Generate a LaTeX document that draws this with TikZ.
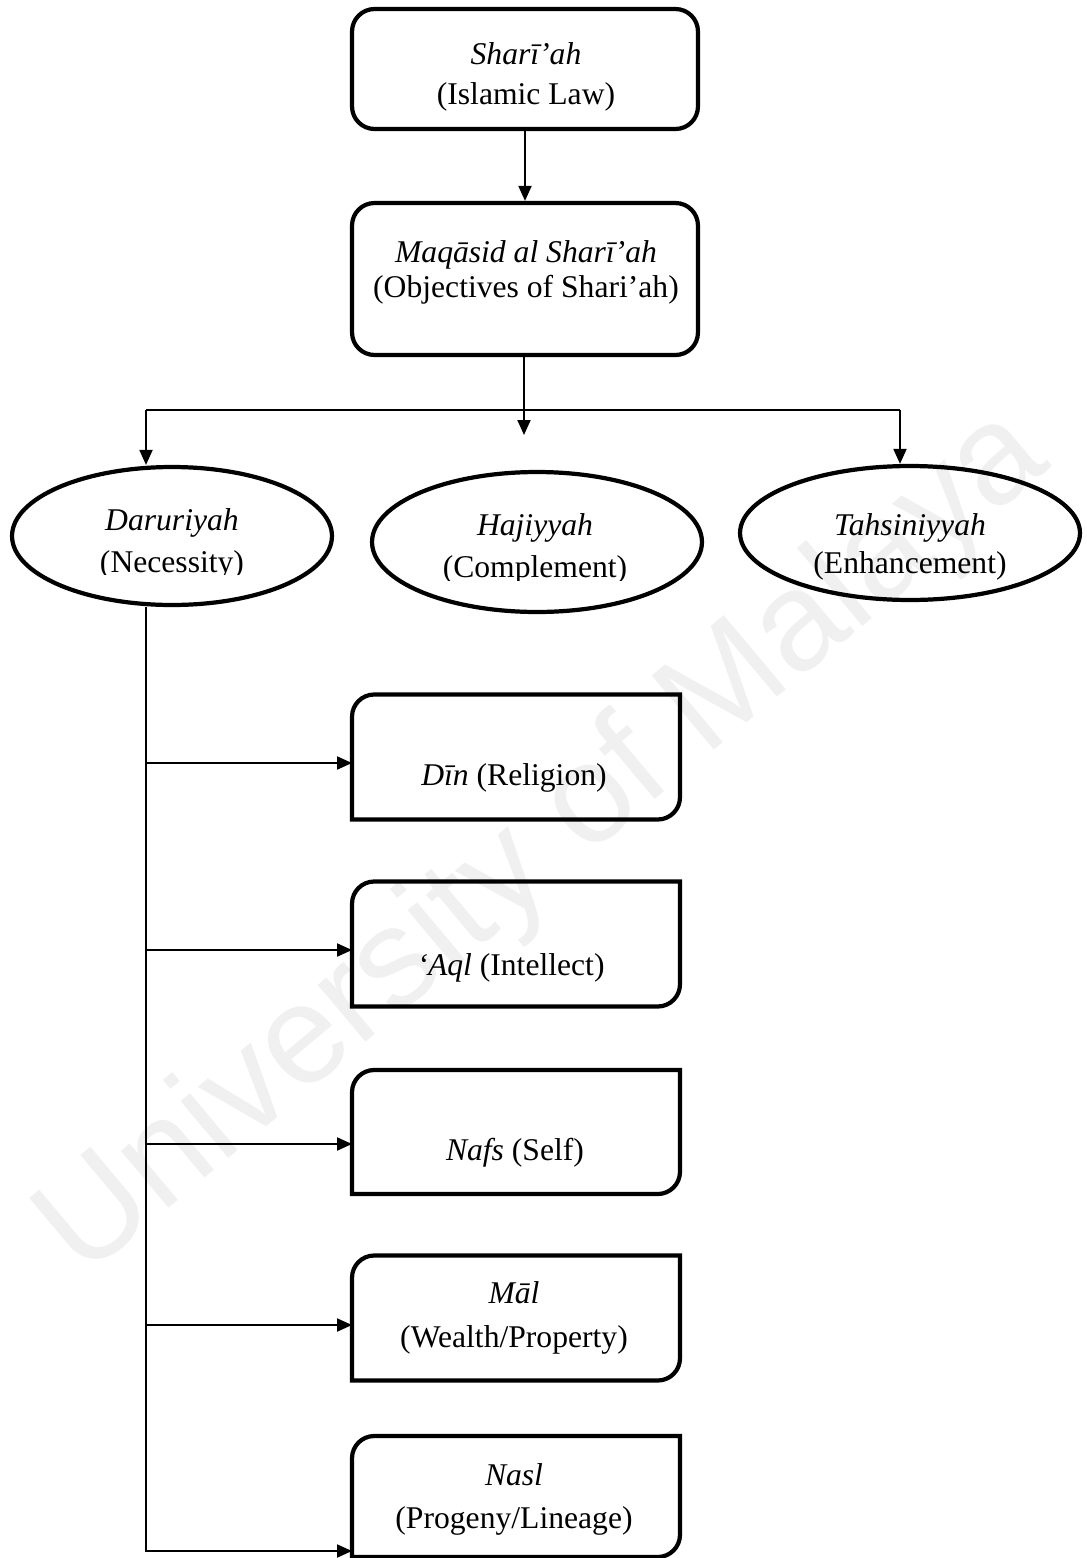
\documentclass[tikz,border=0pt]{standalone}
\usepackage{fontspec}
\setmainfont{Liberation Serif}
\newfontfamily\wmfont{Liberation Sans}
\usetikzlibrary{arrows.meta,shapes.geometric,calc}

\tikzset{
  shape line/.style={line width=2.4pt},
  roundbox/.style={shape line, draw, rounded corners=0.45cm, minimum width=6.92cm, inner sep=0pt},
  oval/.style={shape line, draw, ellipse, inner sep=0pt},
  slot/.style={minimum width=6.56cm, inner sep=0pt, outer sep=0pt},
  link/.style={line width=1.1pt},
  arrow/.style={link, -{Triangle[length=0.3cm,width=0.26cm]}},
  txt/.style={anchor=base, inner sep=0pt, font=\fontsize{18}{22}\selectfont},
  wmark/.style={rotate=40, text=black!6, inner sep=0pt, font=\wmfont\fontsize{80}{80}\selectfont},
}

% box with rounded top-left and bottom-right corners (radius 22 units)
\newcommand\cornerbox[1]{%
  \draw[shape line, line join=miter]
    (#1.south west) -- ($(#1.north west)+(0,22)$)
    .. controls ($(#1.north west)+(0,10)$) and ($(#1.north west)+(10,0)$) .. ($(#1.north west)+(22,0)$)
    -- (#1.north east) -- ($(#1.south east)+(0,-22)$)
    .. controls ($(#1.south east)+(0,-10)$) and ($(#1.south east)+(-10,0)$) .. ($(#1.south east)+(-22,0)$)
    -- cycle;}

\begin{document}
\begin{tikzpicture}[x=0.02cm,y=-0.02cm]
\useasboundingbox (0,0) rectangle (1087,1558);

% watermark
\node[wmark] (wm) at (545,845) {University of Malaya};

% top chain
\node[roundbox, minimum height=2.4cm] (law) at (525,69) {};
\node[txt] (lawa) at (526,65) {\itshape Sharī’ah};
\node[txt] (lawb) at (526,105) {(Islamic Law)};

\node[roundbox, minimum height=3.04cm] (mq) at (525,279) {};
\node[txt] (mqa) at (526,262) {\itshape Maqāsid al Sharī’ah};
\node[txt] (mqb) at (526,297) {(Objectives of Shari’ah)};

\draw[arrow] (law.south) -- (mq.north);

% three levels
\node[oval, minimum width=6.4cm, minimum height=2.76cm] (dar) at (172,536) {};
\node[oval, minimum width=6.6cm, minimum height=2.8cm] (haj) at (537,542) {};
\node[oval, minimum width=6.8cm, minimum height=2.68cm] (tah) at (910,533) {};

\node[txt] (dara) at (172,530) {\itshape Daruriyah};
\begin{scope}
  \clip (60,540) rectangle (290,574);
  \node[txt] (darb) at (172,572) {(Necessity)};
\end{scope}
\node[txt] (haja) at (535,535) {\itshape Hajiyyah};
\begin{scope}
  \clip (420,545) rectangle (660,580);
  \node[txt] (hajb) at (535,577) {(Complement)};
\end{scope}
\node[txt] (taha) at (910,535) {\itshape Tahsiniyyah};
\node[txt] (tahb) at (910,573) {(Enhancement)};

\coordinate (jl) at (146,410);
\coordinate (jr) at (900,410);
\coordinate (jm) at (524,435);
\draw[link] (jl) -- (jr);
\draw[arrow] (mq.south -| jm) -- (jm);
\draw[arrow] (jl) -- (jl |- dar.north);
\draw[arrow] (jr) -- (jr |- tah.north);

% five necessities
\node[slot, minimum height=2.5cm] (din) at (516,757) {};
\node[slot, minimum height=2.5cm] (aql) at (516,944) {};
\node[slot, minimum height=2.48cm] (nafs) at (516,1132) {};
\node[slot, minimum height=2.5cm] (mal) at (516,1318) {};
\node[slot, minimum height=2.42cm] (nasl) at (516,1496.5) {};
\cornerbox{din}
\cornerbox{aql}
\cornerbox{nafs}
\cornerbox{mal}
\cornerbox{nasl}

\node[txt] (dint) at (514,785) {\textit{Dīn} (Religion)};
\node[txt] (aqlt) at (511,975) {\textit{‘Aql} (Intellect)};
\node[txt] (nafst) at (515,1160) {\textit{Nafs} (Self)};
\node[txt] (mala) at (514,1303) {\itshape Māl};
\node[txt] (malb) at (514,1347) {(Wealth/Property)};
\node[txt] (nasla) at (514,1485) {\itshape Nasl};
\node[txt] (naslb) at (514,1528) {(Progeny/Lineage)};

% trunk and branches
\coordinate (t1) at (146,763);
\coordinate (t2) at (146,950);
\coordinate (t3) at (146,1144);
\coordinate (t4) at (146,1325);
\coordinate (t5) at (146,1551);
\draw[arrow] (t5 |- dar.south) -- (t5) -- (t5 -| nasl.west);
\draw[arrow] (t1) -- (t1 -| din.west);
\draw[arrow] (t2) -- (t2 -| aql.west);
\draw[arrow] (t3) -- (t3 -| nafs.west);
\draw[arrow] (t4) -- (t4 -| mal.west);
\end{tikzpicture}
\end{document}
